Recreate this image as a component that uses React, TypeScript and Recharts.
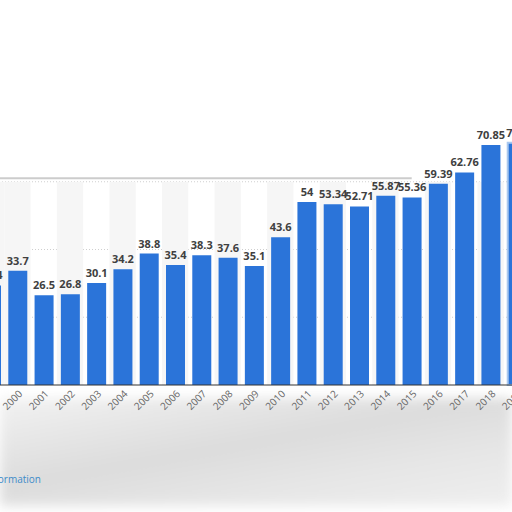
import { BarChart, Bar, XAxis, YAxis, CartesianGrid, LabelList, ReferenceArea, ReferenceLine, Cell } from 'recharts'

const years = ['1999', '2000', '2001', '2002', '2003', '2004', '2005', '2006', '2007', '2008', '2009', '2010', '2011', '2012', '2013', '2014', '2015', '2016', '2017', '2018', '2019']
const values = [29.4, 33.7, 26.5, 26.8, 30.1, 34.2, 38.8, 35.4, 38.3, 37.6, 35.1, 43.6, 54, 53.34, 52.71, 55.87, 55.36, 59.39, 62.76, 70.85, 71.5]
const shadedYears = ['1999', '2000', '2002', '2004', '2006', '2008', '2010', '2012', '2014', '2016', '2018']
const gridValues = [20, 40, 60]

const data = years.map((year, i) => ({ year, value: values[i] }))

function renderYearTick(props: any) {
  const { x, y, payload } = props
  return (
    <g style={{ transform: `translate(${x}px, ${y}px) rotate(-45deg)` }}>
      <text x={3} y={5} textAnchor="end" fill="#666" fontSize={10} fontFamily="'Open Sans', sans-serif">
        {payload.value}
      </text>
    </g>
  )
}

export default function App() {
  return (
    <div style={{ position: 'fixed', left: 0, top: 0, width: 512, height: 512, overflow: 'hidden', background: '#fff' }}>
      <div
        style={{
          position: 'absolute',
          left: 0,
          top: 398,
          width: 512,
          height: 108,
          background: 'linear-gradient(170deg, #f2f2f2 0%, #dcdcdc 45%, #e6e6e6 70%, #efefef 100%)',
          filter: 'blur(6px)',
        }}
      />
      <div
        style={{
          position: 'absolute',
          right: 471,
          top: 472,
          whiteSpace: 'nowrap',
          fontSize: 10,
          color: '#3d8bc9',
          fontFamily: "'Open Sans', sans-serif",
        }}
      >
        Additional Information
      </div>
      <div style={{ position: 'absolute', left: -22, top: 0 }}>
        <BarChart width={552} height={445} data={data} margin={{ top: 114, right: 0, bottom: 0, left: 0 }}>
          {shadedYears.map((y) => (
            <ReferenceArea key={y} x1={y} x2={y} y1={0} y2={60} fill="#f6f6f6" fillOpacity={1} stroke="none" ifOverflow="hidden" />
          ))}
          <CartesianGrid vertical={false} horizontalValues={gridValues} stroke="#cfcfcf" strokeDasharray="1 2" />
          <ReferenceLine
            segment={[{ x: '1999', y: 61 }, { x: '2015', y: 61 }]}
            stroke="#cccccc"
            strokeWidth={2}
          />
          <XAxis
            dataKey="year"
            height={60}
            interval={0}
            tick={renderYearTick}
            tickLine={false}
            axisLine={{ stroke: '#333', strokeWidth: 1 }}
          />
          <YAxis hide domain={[0, 80]} />
          <Bar dataKey="value" fill="#2b74d9" barSize={19} isAnimationActive={false}>
            {data.map((d) => (
              <Cell key={d.year} stroke={d.year === '2019' ? '#a9c8ef' : 'none'} strokeWidth={2} />
            ))}
            <LabelList
              dataKey="value"
              position="top"
              offset={6}
              fill="#404040"
              fontSize={11}
              fontWeight="bold"
              fontFamily="'Open Sans', sans-serif"
            />
          </Bar>
        </BarChart>
      </div>
    </div>
  )
}
